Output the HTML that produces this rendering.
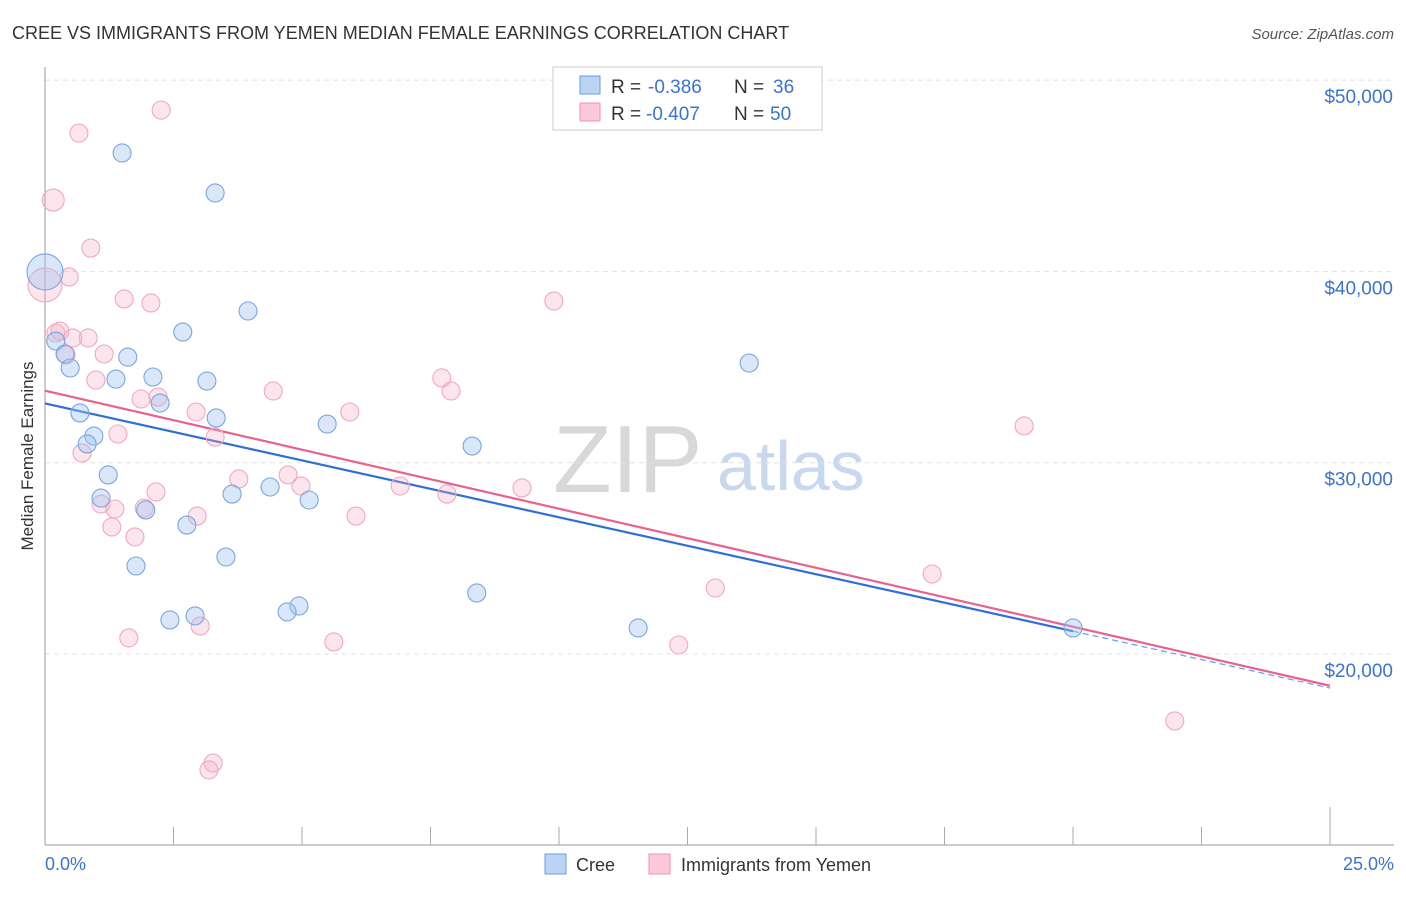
<!DOCTYPE html>
<html><head><meta charset="utf-8"><style>
body{margin:0;background:#fff;font-family:"Liberation Sans",sans-serif;}
svg text{font-family:"Liberation Sans",sans-serif;}
</style></head><body>
<svg id="chart" width="1406" height="892" xmlns="http://www.w3.org/2000/svg">
<text x="12" y="39" font-size="18" fill="#333">CREE VS IMMIGRANTS FROM YEMEN MEDIAN FEMALE EARNINGS CORRELATION CHART</text>
<text x="1394" y="39" font-size="15" fill="#555" font-style="italic" text-anchor="end">Source: ZipAtlas.com</text>
<g>
<text x="553" y="492" font-size="96" fill="#d8d8d8" font-family="Liberation Serif, serif">ZIP</text>
<text x="717" y="490" font-size="70" fill="#c8d8ee">atlas</text>
</g>
<g id="grid"></g><g id="axes"></g><g id="trend"></g><g id="points"></g>
<text x="33" y="456" font-size="17" fill="#333" text-anchor="middle" transform="rotate(-90 33 456)">Median Female Earnings</text>
<text x="45" y="870" font-size="18" fill="#3b73d0">0.0%</text>
<text x="1394" y="870" font-size="18" fill="#3b73d0" text-anchor="end">25.0%</text>
<g>
<rect x="553" y="67" width="269" height="63" fill="#fff" stroke="#ccc"/>
<rect x="580" y="76" width="20" height="18" fill="#bcd4f4" stroke="#6b9be0"/>
<rect x="580" y="103" width="20" height="18" fill="#fbc9d8" stroke="#ee93b0"/>
<text x="611" y="93" font-size="19" fill="#333">R =</text>
<text x="648" y="93" font-size="19" fill="#3b73d0">-0.386</text>
<text x="734" y="93" font-size="19" fill="#333">N =</text>
<text x="773" y="93" font-size="19" fill="#3b73d0">36</text>
<text x="611" y="120" font-size="19" fill="#333">R =</text>
<text x="646" y="120" font-size="19" fill="#3b73d0">-0.407</text>
<text x="734" y="120" font-size="19" fill="#333">N =</text>
<text x="770" y="120" font-size="19" fill="#3b73d0">50</text>
</g>
<g>
<rect x="545" y="854" width="21" height="20" fill="#bcd4f4" stroke="#6b9be0"/>
<text x="576" y="871" font-size="18" fill="#333">Cree</text>
<rect x="649" y="854" width="21" height="20" fill="#fbc9d8" stroke="#ee93b0"/>
<text x="681" y="871" font-size="18" fill="#333">Immigrants from Yemen</text>
</g>
</svg>
<script>
const yTicks=[20000,30000,40000,50000];
const yTickLabels=["$20,000","$30,000","$40,000","$50,000"];
const creeX=[1.50,3.31,0,3.95,0.21,2.68,0.39,1.61,0.49,1.38,2.10,3.15,2.24,0.68,3.33,5.49,0.95,0.82,8.31,13.70,1.23,4.38,1.09,3.64,5.14,1.96,2.76,3.52,1.77,2.92,2.43,4.94,4.71,8.40,11.54,20.0];
const creeY=[46190,44100,39970,37930,36360,36830,35680,35520,34950,34370,34480,34270,33120,32600,32340,32020,31390,30980,30870,35210,29360,28730,28150,28360,28050,27530,26740,25070,24600,21990,21780,22510,22200,23190,21360,21360];
const yemenX=[2.26,0.66,0.16,0.89,0,0.47,1.54,2.06,9.90,0.29,0.21,0.84,0.54,0.41,1.15,0.99,4.44,7.72,7.90,1.87,2.20,2.94,5.93,3.31,1.42,0.72,19.05,4.73,3.77,4.98,6.91,9.28,2.16,7.82,1.09,1.36,1.93,2.96,6.05,1.30,1.75,17.26,13.04,1.63,3.02,5.62,12.33,21.98,3.27,3.19];
const yemenY=[48430,47230,43730,41220,39290,39710,38560,38350,38450,36880,36780,36520,36520,35630,35680,34320,33750,34430,33750,33330,33430,32650,32650,31340,31500,30510,31920,29360,29150,28780,28780,28680,28470,28360,27840,27580,27630,27210,27210,26640,26120,24180,23450,20840,21460,20630,20470,16500,14300,13940];
const NS="http://www.w3.org/2000/svg";
const X0=45,X1=1330,YB=845;
function sx(p){return X0+(p/25)*(X1-X0);}
function sy(v){return 654-(v-20000)*0.01913;}
function mk(tag,attrs,parent){const e=document.createElementNS(NS,tag);for(const k in attrs)e.setAttribute(k,attrs[k]);document.getElementById(parent).appendChild(e);return e;}
yTicks.forEach((v,i)=>{
  const l=mk('line',{x1:X0,x2:1394,y1:sy(v),y2:sy(v),stroke:'#e2e2e2','stroke-dasharray':'5,4'},'grid');
  
  
  const t=mk('text',{x:1393,y:sy(v)+23,'font-size':19,fill:'#3b73d0','text-anchor':'end'},'grid');
  t.textContent=yTickLabels[i];
  
  
});
let a=mk('line',{x1:X0,x2:X0,y1:67,y2:YB,stroke:'#999'},'axes');


a=mk('line',{x1:X0,x2:1394,y1:YB,y2:YB,stroke:'#999'},'axes');


for(let i=1;i<=10;i++){
  const x=sx(i*2.5);
  const t=mk('line',{x1:x,x2:x,y1:i==10?807:827,y2:YB,stroke:'#aaa'},'axes');
  
  
}
function reg(xs,ys){const n=xs.length;let mx=0,my=0;for(let i=0;i<n;i++){mx+=xs[i];my+=ys[i];}mx/=n;my/=n;let sxy=0,sxx=0;for(let i=0;i<n;i++){sxy+=(xs[i]-mx)*(ys[i]-my);sxx+=(xs[i]-mx)**2;}const b=sxy/sxx;return [my-b*mx,b];}
const rc=reg(creeX,creeY), ry=reg(yemenX,yemenY);
const cmax=Math.max(...creeX);
let l=mk('line',{x1:sx(0),y1:sy(rc[0]),x2:sx(cmax),y2:sy(rc[0]+rc[1]*cmax),stroke:'#2f6fd6','stroke-width':2.2},'trend');


l=mk('line',{x1:sx(cmax),y1:sy(rc[0]+rc[1]*cmax),x2:sx(25),y2:sy(rc[0]+rc[1]*25),stroke:'#6b9be0','stroke-width':1.2,'stroke-dasharray':'6,4'},'trend');


l=mk('line',{x1:sx(0),y1:sy(ry[0]),x2:sx(25),y2:sy(ry[0]+ry[1]*25),stroke:'#e7628c','stroke-width':2.2},'trend');


yemenX.forEach((x,i)=>{
  const c=mk('circle',{cx:sx(x),cy:sy(yemenY[i]),r:x==0?17:(i==2?11:9),fill:'rgba(246,170,195,0.3)',stroke:'#f0a8c0','stroke-width':1.1},'points');
  
  
});
creeX.forEach((x,i)=>{
  const c=mk('circle',{cx:sx(x),cy:sy(creeY[i]),r:x==0?18:9,fill:'rgba(160,195,240,0.4)',stroke:'#79a5e4','stroke-width':1.1},'points');
  
  
});
</script>
</body></html>
